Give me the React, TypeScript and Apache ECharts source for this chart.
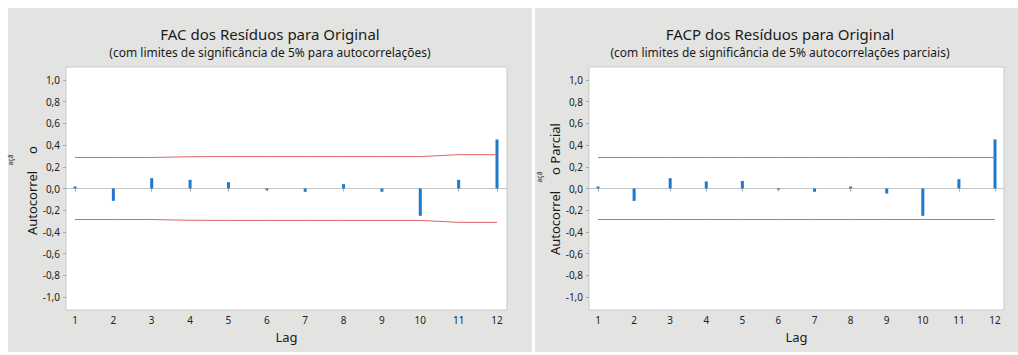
import React, { useEffect, useRef } from "react";
import * as echarts from "echarts";

const lags = [1, 2, 3, 4, 5, 6, 7, 8, 9, 10, 11, 12];
const acfValues = [0.018, -0.114, 0.095, 0.08, 0.058, -0.015, -0.03, 0.04, -0.03, -0.252, 0.08, 0.452];
const acfLimits = [0.286, 0.286, 0.286, 0.293, 0.294, 0.294, 0.294, 0.294, 0.294, 0.294, 0.312, 0.312];
const pacfValues = [0.018, -0.114, 0.095, 0.065, 0.07, -0.01, -0.03, 0.018, -0.046, -0.252, 0.086, 0.452];
const pacfLimits = [0.286, 0.286, 0.286, 0.286, 0.286, 0.286, 0.286, 0.286, 0.286, 0.286, 0.286, 0.286];
const zeroLine = [[0, 0], [1, 0]];

const leftTitle = "FAC dos Resíduos para Original";
const leftSub = "(com limites de significância de 5% para autocorrelações)";
const rightTitle = "FACP dos Resíduos para Original";
const rightSub = "(com limites de significância de 5% autocorrelações parciais)";
const xName = "Lag";

const FONT = "'Noto Sans', sans-serif";
const BLUE = "#1f78c9";
const RED = "#de6466";
const PANEL = "#e3e4e2";

const fmt = (v: number) => (Math.abs(v) < 1e-9 ? "0,0" : v.toFixed(1).replace(".", ","));

function axesFor(gridOuter: number, gridInner: number) {
  const x = [
    { gridIndex: gridOuter, type: "value", min: 0, max: 1, show: false },
    {
      gridIndex: gridInner, type: "value", min: 1, max: 12, interval: 1, offset: 13,
      axisLine: { show: false },
      axisTick: { show: true, length: 3, lineStyle: { color: "#a8a8a8" } },
      axisLabel: { margin: 5, fontSize: 10, color: "#222", fontFamily: FONT },
      splitLine: { show: false },
    },
  ];
  const y = [
    { gridIndex: gridOuter, type: "value", min: -1.12, max: 1.12, show: false },
    {
      gridIndex: gridInner, type: "value", min: -1, max: 1, interval: 0.2, offset: 9,
      axisLine: { show: false },
      axisTick: { show: true, length: 3, lineStyle: { color: "#a8a8a8" } },
      axisLabel: { margin: 6, fontSize: 10, color: "#222", fontFamily: FONT, formatter: fmt },
      splitLine: { show: false },
    },
  ];
  return { x, y };
}

function seriesFor(axOuter: number, axInner: number, values: number[], limits: number[]) {
  return [
    {
      type: "line", xAxisIndex: axOuter, yAxisIndex: axOuter, data: zeroLine,
      symbol: "none", lineStyle: { color: "#c6c6c6", width: 1 }, silent: true, z: 1,
    },
    {
      type: "line", xAxisIndex: axInner, yAxisIndex: axInner,
      data: lags.map((l, i) => [l, limits[i]]),
      symbol: "none", lineStyle: { color: RED, width: 1 }, silent: true,
    },
    {
      type: "line", xAxisIndex: axInner, yAxisIndex: axInner,
      data: lags.map((l, i) => [l, -limits[i]]),
      symbol: "none", lineStyle: { color: RED, width: 1 }, silent: true,
    },
    {
      type: "bar", xAxisIndex: axInner, yAxisIndex: axInner, barWidth: 3,
      data: lags.map((l, i) => [l, values[i]]),
      itemStyle: { color: BLUE }, z: 3,
    },
  ];
}

export default function App() {
  const ref = useRef<HTMLDivElement>(null);
  useEffect(() => {
    document.body.style.margin = "0";
    if (!ref.current) return;
    const chart = echarts.init(ref.current, undefined, { renderer: "svg" });
    const L = axesFor(0, 1);
    const R = axesFor(2, 3);
    const txt = (x: number, y: number, text: string, size: number, extra: any = {}) => ({
      type: "text", x, y, ...extra,
      style: { text, font: `${size}px ${FONT}`, fill: "#1a1a1a", textAlign: "center", textVerticalAlign: "middle", ...(extra.style || {}) },
    });
    const rot = Math.PI / 2;
    chart.setOption({
      animation: false,
      backgroundColor: "#ffffff",
      grid: [
        { left: 66, top: 67, width: 441, height: 243, show: false },
        { left: 75, top: 80, width: 422, height: 217, show: false },
        { left: 589, top: 67, width: 415, height: 243, show: false },
        { left: 598, top: 80, width: 397, height: 217, show: false },
      ],
      xAxis: [...L.x, ...R.x],
      yAxis: [...L.y, ...R.y],
      series: [
        ...seriesFor(0, 1, acfValues, acfLimits),
        ...seriesFor(2, 3, pacfValues, pacfLimits),
      ],
      graphic: [
        { type: "rect", shape: { x: 8, y: 8, width: 524, height: 344 }, style: { fill: PANEL }, silent: true, z: -10 },
        { type: "rect", shape: { x: 535, y: 8, width: 483, height: 344 }, style: { fill: PANEL }, silent: true, z: -10 },
        { type: "rect", shape: { x: 66, y: 67, width: 441, height: 243 }, style: { fill: "#ffffff", stroke: "#c9c9c9", lineWidth: 1 }, silent: true, z: -9 },
        { type: "rect", shape: { x: 589, y: 67, width: 415, height: 243 }, style: { fill: "#ffffff", stroke: "#c9c9c9", lineWidth: 1 }, silent: true, z: -9 },
        txt(270, 34, leftTitle, 15),
        txt(270, 52, leftSub, 12),
        txt(780, 34, rightTitle, 15),
        txt(780, 52, rightSub, 12),
        txt(286.5, 337, xName, 13),
        txt(796.5, 337, xName, 13),
        txt(32, 203, "Autocorrel", 13, { rotation: rot }),
        txt(32, 150, "o", 13, { rotation: rot }),
        txt(10, 160, "açã", 7, { rotation: rot }),
        txt(555, 223, "Autocorrel", 13, { rotation: rot }),
        txt(555, 149, "o Parcial", 13, { rotation: rot }),
        txt(539, 177, "açã", 7, { rotation: rot }),
      ],
    });
    return () => chart.dispose();
  }, []);
  return <div ref={ref} style={{ width: 1018, height: 355 }} />;
}
